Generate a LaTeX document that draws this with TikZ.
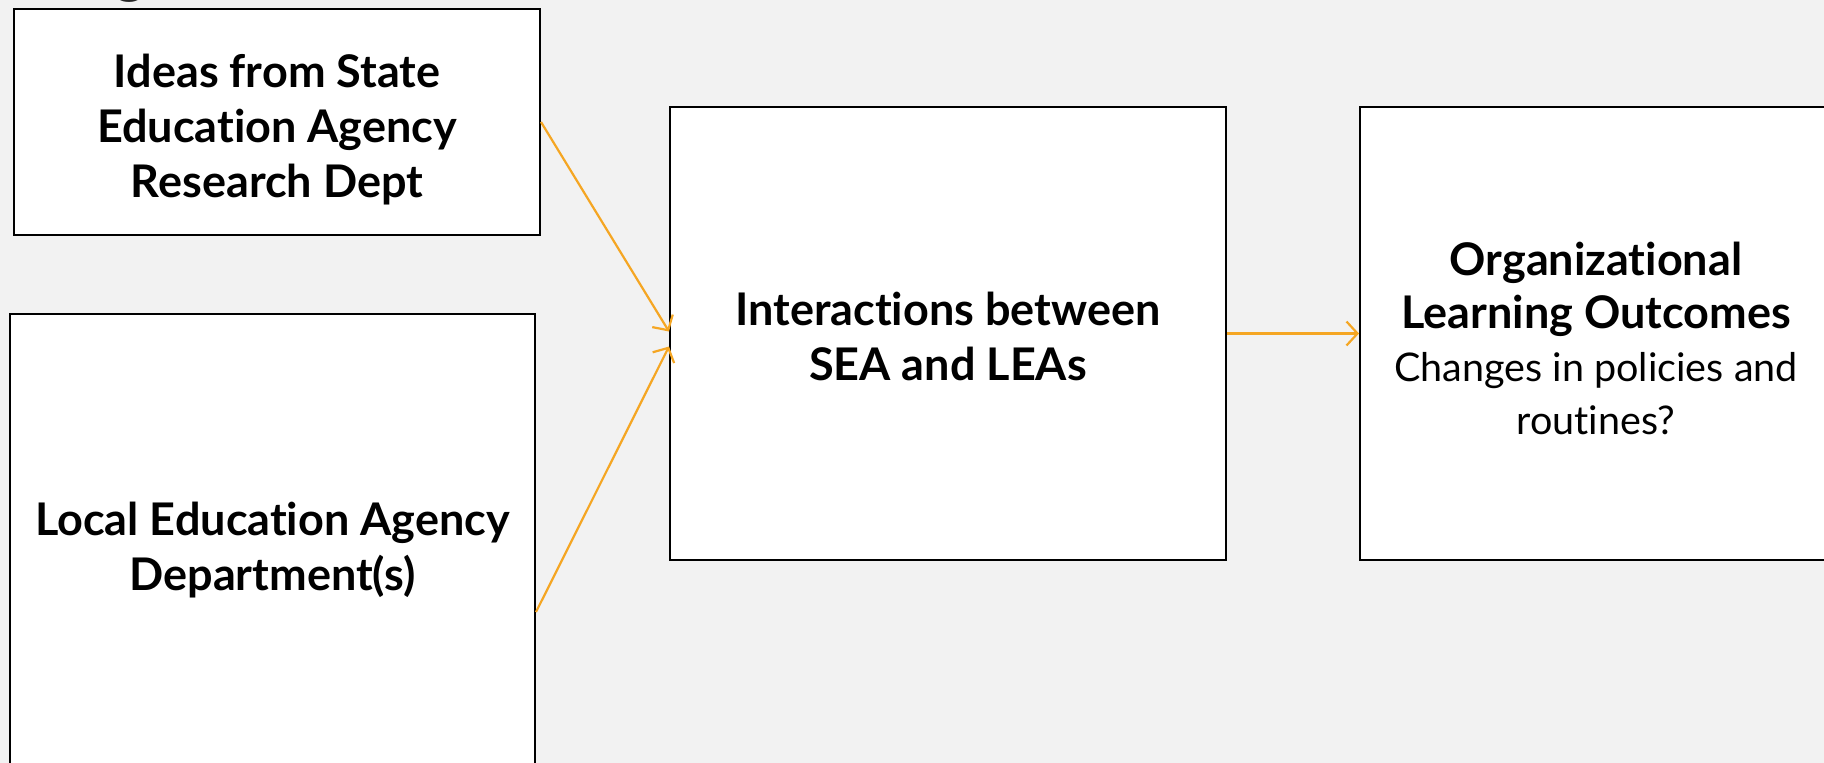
\documentclass[tikz,border=0pt]{standalone}
\usepackage{fontspec}
\setmainfont{Lato}[Ligatures=NoCommon]
\usetikzlibrary{arrows.meta}
\definecolor{bg}{HTML}{F2F2F2}
\definecolor{arr}{RGB}{245,166,35}
\definecolor{ttl}{HTML}{262626}
\begin{document}
\begin{tikzpicture}[x=1pt,y=-1pt,
  box/.style={draw=black, line width=2pt, fill=white, rectangle, inner sep=0pt, align=center},
  conn/.style={draw=arr, line width=2.2pt, -{Straight Barb[length=11pt,width=24pt,line width=2.2pt]}},
  bt/.style={font=\fontsize{45}{55}\selectfont\bfseries}]
\useasboundingbox (0,0) rectangle (1824,763);
\clip (0,0) rectangle (1824,763);
\fill[bg] (0,0) rectangle (1824,763);
\node[anchor=base, text=ttl, font=\fontsize{60}{72}\selectfont] (tg) at (130,-9) {g};
\node[box, bt, minimum width=526pt, minimum height=226pt] (b1) at (277,122)
  {\rule{0pt}{48pt}Ideas from State\\Education Agency\\Research Dept};
\node[box, bt, minimum width=525pt, minimum height=466pt] (b2) at (272.5,547)
  {\rule{0pt}{40pt}Local Education Agency\\Department(s)};
\node[box, bt, minimum width=556pt, minimum height=453pt] (b3) at (948,333.5)
  {\rule{0pt}{40pt}Interactions between\\SEA and LEAs};
\node[box, minimum width=472pt, minimum height=453pt, font=\fontsize{39.5}{53}\selectfont] (b4) at (1596,333.5)
  {{\fontsize{45}{55}\selectfont\bfseries\rule{0pt}{44pt}Organizational}\\{\fontsize{45}{55}\selectfont\bfseries Learning Outcomes}\\Changes in policies and\\routines?};
\draw[conn] (b1.east) -- ([yshift=2pt]b3.west);
\draw[conn] ([yshift=-65pt]b2.east) -- ([yshift=-13pt]b3.west);
\draw[conn] (b3.east) -- (b4.west);
\end{tikzpicture}
\end{document}
